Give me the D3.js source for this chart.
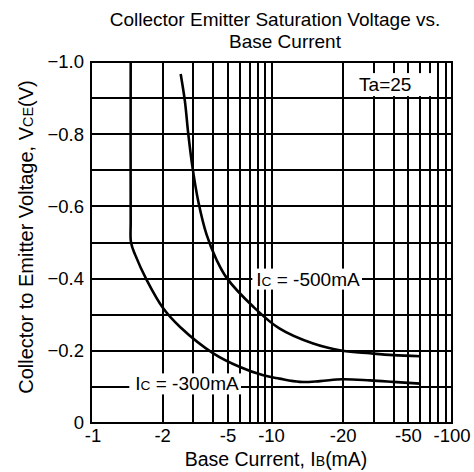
<!DOCTYPE html>
<html>
<head>
<meta charset="utf-8">
<script src="https://cdn.jsdelivr.net/npm/d3@7"></script>
<style>
  body { margin: 0; background: #fff; }
  svg { display: block; font-family: "Liberation Sans", Arial, sans-serif; }
  .grid line { stroke: #000; stroke-width: 2; shape-rendering: crispEdges; }
  .curve { fill: none; stroke: #000; stroke-width: 2.6; }
  .tick-label { font-size: 18.5px; fill: #000; }
</style>
</head>
<body>
<div id="chart"></div>
<script>
// base current (mA) grid + labels
var ibGrid = [-1, -2, -3, -4, -5, -6, -7, -8, -9, -10, -20, -30, -40, -50, -60, -70, -80, -90, -100];
var ibLabels = [-1, -2, -5, -10, -20, -50, -100];
var vceGrid = [0, -0.1, -0.2, -0.3, -0.4, -0.5, -0.6, -0.7, -0.8, -0.9, -1.0];
var vceLabels = [0, -0.2, -0.4, -0.6, -0.8, -1.0];

// Ic = -300mA
var ib300 = [-1.38, -1.38, -1.385, -1.45, -1.65, -2.02, -2.51, -4.01, -6.02, -8.74, -10.4, -12.3, -15.2, -19.8, -28.5, -39.8, -60];
var vce300 = [-1.0, -0.56, -0.50, -0.465, -0.396, -0.317, -0.266, -0.193, -0.155, -0.132, -0.123, -0.114, -0.116, -0.121, -0.118, -0.114, -0.109];

// Ic = -500mA
var ib500 = [-2.53, -2.68, -2.81, -2.98, -3.23, -3.64, -4.22, -4.90, -7.43, -10.4, -14.1, -19.8, -28.5, -39.8, -60];
var vce500 = [-0.967, -0.891, -0.798, -0.706, -0.613, -0.521, -0.451, -0.402, -0.322, -0.262, -0.220, -0.200, -0.193, -0.188, -0.185];

var winWidth = 474, winHeight = 472;
var margin = {top: 62, right: 22, bottom: 49, left: 91};
var width = winWidth - margin.left - margin.right;
var height = winHeight - margin.top - margin.bottom;

var svg = d3.select('#chart').append('svg')
  .attr('width', winWidth)
  .attr('height', winHeight);

// the printed log paper is squeezed inside each decade
var decadeFrac = d3.scalePow().exponent(0.77).domain([0, 1]).range([0, 1]);
var decadePos = d3.scaleLinear().domain([0, 2]).range([margin.left, margin.left + width]);
function x(v) {
  var L = Math.log10(Math.abs(v));
  var D = Math.floor(L + 1e-9);
  return decadePos(D + decadeFrac(L - D));
}

var y = d3.scaleLinear()
  .domain([0, -1])
  .range([margin.top + height, margin.top]);

// grid
var grid = svg.append('g').attr('class', 'grid');
grid.selectAll('.vg').data(ibGrid).enter().append('line')
  .attr('x1', d => Math.round(x(d))).attr('x2', d => Math.round(x(d)))
  .attr('y1', y(0)).attr('y2', y(-1));
grid.selectAll('.hg').data(vceGrid).enter().append('line')
  .attr('x1', x(-1)).attr('x2', x(-100))
  .attr('y1', d => Math.round(y(d))).attr('y2', d => Math.round(y(d)));

// frame
svg.append('rect')
  .attr('x', x(-1)).attr('y', Math.round(y(-1)))
  .attr('width', x(-100) - x(-1))
  .attr('height', Math.round(y(0)) - Math.round(y(-1)))
  .attr('fill', 'none').attr('stroke', '#000').attr('stroke-width', 2)
  .attr('shape-rendering', 'crispEdges');

// annotation boxes (cover the grid)
function label(parts, xv, yv, dy, pad) {
  var g = svg.append('g');
  var t = g.append('text')
    .attr('x', x(xv)).attr('y', y(yv) + dy)
    .attr('font-size', '19px');
  parts.forEach(function(p) {
    t.append('tspan').text(p[0]).attr('font-size', p[1] ? '0.72em' : null);
  });
  var bb = t.node().getBBox();
  g.insert('rect', 'text')
    .attr('x', bb.x - pad[0]).attr('y', bb.y - pad[1])
    .attr('width', bb.width + pad[0] + pad[2])
    .attr('height', bb.height + pad[1] + pad[3])
    .attr('fill', '#fff');
}
label([['I', 0], ['C', 1], [' = -500mA', 0]], -7.8, -0.4, 7, [4, 0, 2, 0]);
label([['I', 0], ['C', 1], [' = -300mA', 0]], -1.45, -0.1, 3.5, [6, 0, 2, 0]);
label([['Ta=25', 0]], -24.6, -0.9, -7, [9, 1, 24, 1]);

// curves
var line = d3.line()
  .x(d => x(d[0]))
  .y(d => y(d[1]))
  .curve(d3.curveCatmullRom.alpha(0.5));

svg.append('path').attr('class', 'curve')
  .attr('d', line(d3.zip(ib300, vce300)));
svg.append('path').attr('class', 'curve')
  .attr('d', line(d3.zip(ib500, vce500)));

// tick labels
svg.selectAll('.xl').data(ibLabels).enter().append('text')
  .attr('class', 'tick-label')
  .attr('x', d => x(d) + (d === -1 ? 2 : 0))
  .attr('y', y(0) + 19)
  .attr('text-anchor', 'middle')
  .text(d => d);

svg.selectAll('.yl').data(vceLabels).enter().append('text')
  .attr('class', 'tick-label')
  .attr('x', margin.left - 7)
  .attr('y', d => y(d))
  .attr('dy', '0.35em')
  .attr('text-anchor', 'end')
  .text(d => d === 0 ? '0' : d3.format('.1f')(d));

// titles
svg.append('text')
  .attr('x', 275).attr('y', 25.5)
  .attr('text-anchor', 'middle').attr('font-size', '19px')
  .text('Collector Emitter Saturation Voltage vs.');
svg.append('text')
  .attr('x', 285).attr('y', 48)
  .attr('text-anchor', 'middle').attr('font-size', '19px')
  .text('Base Current');

var xt = svg.append('text')
  .attr('x', 276).attr('y', 466)
  .attr('text-anchor', 'middle').attr('font-size', '19.5px');
xt.append('tspan').text('Base Current, I');
xt.append('tspan').text('B').attr('font-size', '0.72em');
xt.append('tspan').text('(mA)');

var yt = svg.append('text')
  .attr('transform', 'translate(33, 237) rotate(-90)')
  .attr('text-anchor', 'middle').attr('font-size', '20px');
yt.append('tspan').text('Collector to Emitter Voltage, V');
yt.append('tspan').text('CE').attr('font-size', '0.72em');
yt.append('tspan').text('(V)');
</script>
</body>
</html>
